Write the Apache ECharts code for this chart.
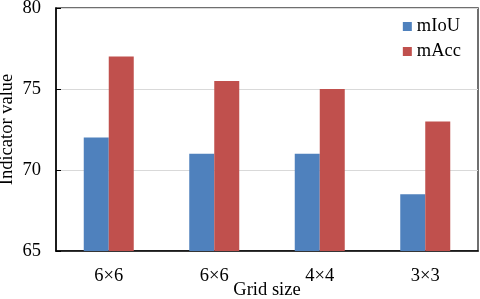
<!DOCTYPE html>
<html><head><meta charset="utf-8">
<script src="https://cdn.jsdelivr.net/npm/echarts@6/dist/echarts.min.js"></script>
<style>html,body{margin:0;padding:0;background:#fff}#c{width:480px;height:299px}</style>
</head><body><div id="c"></div>
<script>
const categories = ['6×6', '6×6', '4×4', '3×3'];
const mIoU = [72, 71, 71, 68.5];
const mAcc = [77, 75.5, 75, 73];
const yTicks = { min: 65, max: 80, interval: 5 };
const F = 'Liberation Serif, Times New Roman, serif';
const FS = 18.5;
const chart = echarts.init(document.getElementById('c'), null, { renderer: 'canvas' });
chart.setOption({
  animation: false,
  textStyle: { fontFamily: F },
  grid: { left: 56, right: 2, top: 8, bottom: 48, outerBoundsMode: 'none', containLabel: false, show: true, borderColor: '#404040', borderWidth: 1.5 },
  legend: {
    right: 14, top: 12, orient: 'vertical', itemWidth: 9, itemHeight: 9, itemGap: 6,
    icon: 'rect', textStyle: { fontFamily: F, fontSize: FS, color: '#000' },
    data: ['mIoU', 'mAcc']
  },
  xAxis: {
    type: 'category', data: categories,
    name: 'Grid size', nameLocation: 'middle', nameGap: 30, nameMoveOverlap: false,
    nameTextStyle: { fontFamily: F, fontSize: FS, color: '#000' },
    axisLine: { lineStyle: { color: '#000', width: 1.5 } },
    axisTick: { show: false },
    axisLabel: { fontFamily: F, fontSize: FS, color: '#000', margin: 16 }
  },
  yAxis: {
    type: 'value', min: yTicks.min, max: yTicks.max, interval: yTicks.interval,
    name: 'Indicator value', nameLocation: 'middle', nameGap: 39, nameMoveOverlap: false,
    nameTextStyle: { fontFamily: F, fontSize: FS, color: '#000' },
    axisLine: { show: true, lineStyle: { color: '#000', width: 1.5 } },
    axisTick: { show: true, inside: true, length: 5, lineStyle: { color: '#000' } },
    axisLabel: { fontFamily: F, fontSize: FS, color: '#000', margin: 15 },
    splitLine: { lineStyle: { color: '#d9d9d9', width: 1 } }
  },
  series: [
    { name: 'mIoU', type: 'bar', data: mIoU, barWidth: 25, barGap: '0%', itemStyle: { color: '#4F81BD' } },
    { name: 'mAcc', type: 'bar', data: mAcc, barWidth: 25, barGap: '0%', itemStyle: { color: '#C0504D' } }
  ]
});
</script></body></html>
